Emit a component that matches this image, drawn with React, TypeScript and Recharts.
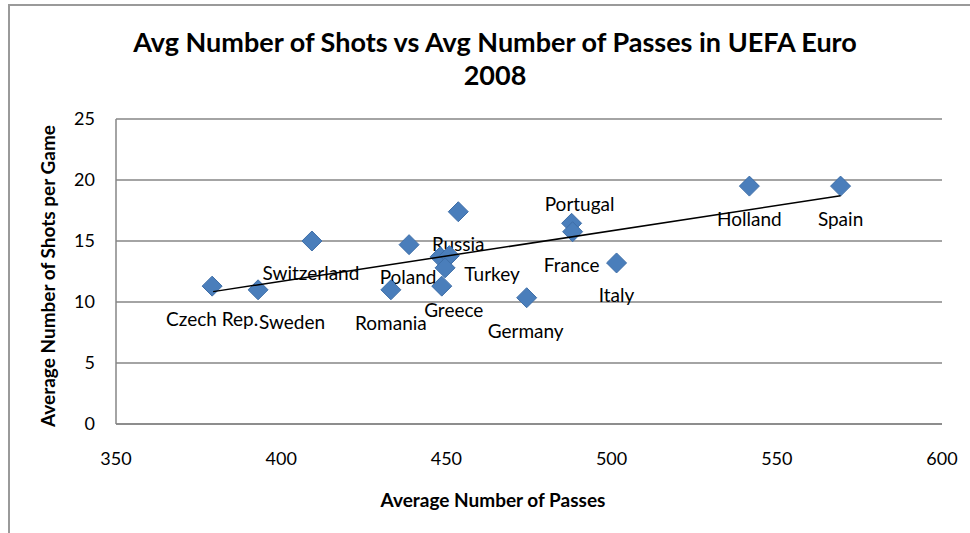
import React from 'react';
import {
  CartesianGrid,
  Scatter,
  ScatterChart,
  XAxis,
  YAxis,
} from 'recharts';

// teams and their averages
const teams = [
  'Czech Rep.', 'Sweden', 'Switzerland', 'Poland', 'Romania', 'Russia',
  'Austria', 'Croatia', 'Turkey', 'Greece', 'Germany', 'Portugal',
  'France', 'Italy', 'Holland', 'Spain',
];
const passes = [
  379.1, 393.0, 409.3, 438.7, 433.2, 453.6,
  448.1, 450.9, 449.6, 448.6, 474.3, 487.9,
  488.2, 501.5, 541.7, 569.3,
];
const shots = [
  11.3, 11.0, 15.0, 14.7, 11.0, 17.4,
  13.7, 13.8, 12.8, 11.3, 10.35, 16.45,
  15.76, 13.2, 19.5, 19.5,
];
const shownLabels = [
  'Czech Rep.', 'Sweden', 'Switzerland', 'Poland', 'Romania', 'Russia',
  '', '', 'Turkey', 'Greece', 'Germany', 'Portugal',
  'France', 'Italy', 'Holland', 'Spain',
];

// linear trendline end points
const trendPasses = [379.4, 569.3];
const trendShots = [10.85, 18.7];

const xTicks = [350, 400, 450, 500, 550, 600];
const yTicks = [0, 5, 10, 15, 20, 25];

// where each label sits relative to its marker (pixels)
const labelOffset: Record<string, [number, number]> = {
  'Czech Rep.': [0, 32],
  Sweden: [34, 32],
  Switzerland: [-1, 31],
  Poland: [-1, 32],
  Romania: [0, 33],
  Russia: [0, 32],
  Turkey: [47, 6],
  Greece: [12, 23],
  Germany: [-1, 33],
  Portugal: [8, -20],
  France: [-1, 33],
  Italy: [0, 32],
  Holland: [0, 32],
  Spain: [0, 32],
};

const points = teams.map((t, i) => ({ team: t, label: shownLabels[i], passes: passes[i], shots: shots[i] }));
const trend = trendPasses.map((p, i) => ({ passes: p, shots: trendShots[i] }));

const FONT = 'Lato, "Open Sans", sans-serif';
const GRID = '#868686';

function Diamond(props: any) {
  const { cx, cy, payload } = props;
  if (cx == null || cy == null) return null;
  const r = 10;
  const off = labelOffset[payload.label];
  return (
    <g>
      <path
        d={`M${cx},${cy - r} L${cx + r},${cy} L${cx},${cy + r} L${cx - r},${cy} Z`}
        fill="#4A7EBB"
        stroke="#3F6FA8"
        strokeWidth={1}
      />
      {payload.label && off ? (
        <text
          x={cx + off[0]}
          y={cy + off[1]}
          textAnchor="middle"
          dominantBaseline="central"
          fontSize={19}
          fill="#000"
        >
          {payload.label}
        </text>
      ) : null}
    </g>
  );
}

export default function App() {
  return (
    <div style={{ position: 'absolute', left: 0, top: 0, width: 970, height: 533, background: '#fff', fontFamily: FONT, overflow: 'hidden' }}>
      <div
        style={{
          position: 'absolute', left: 8, top: 4, width: 970, height: 540,
          borderTop: '2px solid #9a9a9a', borderLeft: '2px solid #9a9a9a',
        }}
      />
      <div
        style={{
          position: 'absolute', left: 45, top: 25, width: 900, textAlign: 'center',
          fontSize: 27, fontWeight: 700, lineHeight: '33px', color: '#000',
        }}
      >
        Avg Number of Shots vs Avg Number of Passes in UEFA Euro
        <br />
        2008
      </div>
      <div
        style={{
          position: 'absolute', left: 293, top: 488, width: 400, textAlign: 'center',
          fontSize: 19, fontWeight: 700, color: '#000',
        }}
      >
        Average Number of Passes
      </div>
      <div
        style={{
          position: 'absolute', left: 48 - 200, top: 276 - 12, width: 400, height: 24, lineHeight: '24px',
          textAlign: 'center', fontSize: 19, fontWeight: 700, color: '#000',
          transform: 'rotate(-90deg)', transformOrigin: '200px 12px',
        }}
      >
        Average Number of Shots per Game
      </div>
      <div style={{ position: 'absolute', left: 0, top: 0 }}>
        <ScatterChart width={970} height={533} margin={{ top: 119, right: 28, left: 56, bottom: 49 }}>
          <CartesianGrid vertical={false} stroke={GRID} strokeWidth={1.5} />
          <XAxis
            type="number"
            dataKey="passes"
            domain={[350, 600]}
            ticks={xTicks}
            height={60}
            tickLine={false}
            tickSize={0}
            tickMargin={28}
            axisLine={{ stroke: GRID, strokeWidth: 1.5 }}
            tick={{ fill: '#000', fontSize: 18 }}
            allowDataOverflow
          />
          <YAxis
            type="number"
            dataKey="shots"
            domain={[0, 25]}
            ticks={yTicks}
            width={60}
            tickLine={false}
            tickSize={0}
            tickMargin={21}
            axisLine={{ stroke: GRID, strokeWidth: 1.5 }}
            tick={{ fill: '#000', fontSize: 18 }}
            allowDataOverflow
          />
          <Scatter data={points} shape={<Diamond />} isAnimationActive={false} />
          <Scatter
            data={trend}
            line={{ stroke: '#000', strokeWidth: 1.5 }}
            shape={() => null}
            isAnimationActive={false}
          />
        </ScatterChart>
      </div>
    </div>
  );
}
